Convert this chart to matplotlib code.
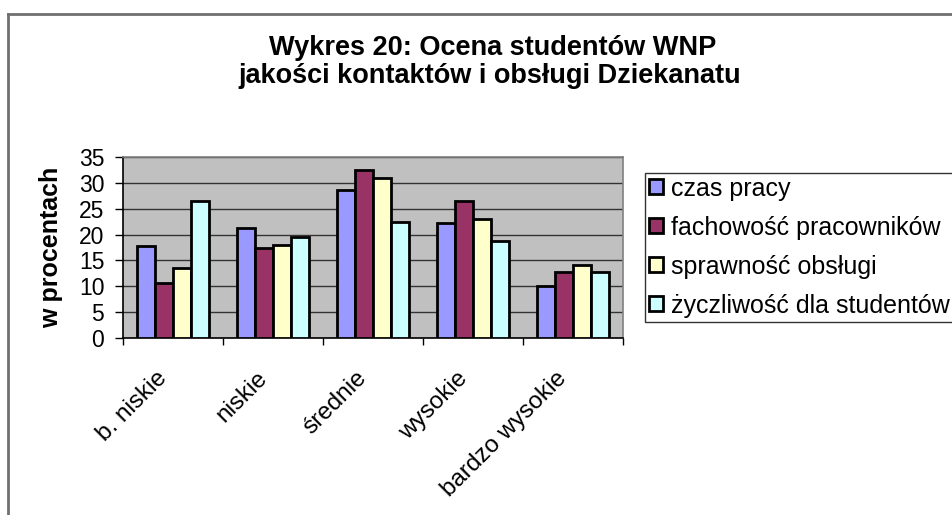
import matplotlib
matplotlib.use("Agg")
import matplotlib.pyplot as plt
import numpy as np
from matplotlib.lines import Line2D
from matplotlib.transforms import ScaledTranslation

categories = ["b. niskie", "niskie", "średnie", "wysokie", "bardzo wysokie"]
series_names = ["czas pracy", "fachowość pracowników", "sprawność obsługi", "życzliwość dla studentów"]
czas_pracy = [17.7, 21.2, 28.6, 22.2, 10.1]
fachowosc = [10.6, 17.5, 32.4, 26.5, 12.8]
sprawnosc = [13.6, 18.0, 30.9, 23.1, 14.2]
zyczliwosc = [26.5, 19.6, 22.4, 18.7, 12.8]
yticks = [0, 5, 10, 15, 20, 25, 30, 35]
colors = ["#9999FF", "#993366", "#FFFFCC", "#CCFFFF"]

plt.rcParams['font.family'] = ['Liberation Sans', 'DejaVu Sans']

W, H = 952, 515
fig = plt.figure(figsize=(W / 100, H / 100), dpi=100)
ax = fig.add_axes([123 / W, 1 - 338 / H, 500 / W, 181 / H])
ax.set_facecolor("#C0C0C0")

x = np.arange(len(categories))
bw = 1 / 5.5
data = [czas_pracy, fachowosc, sprawnosc, zyczliwosc]
for i, (vals, c, name) in enumerate(zip(data, colors, series_names)):
    ax.bar(x + (i - 1.5) * bw, vals, width=bw, color=c, edgecolor="black",
           linewidth=2.0, label=name, zorder=3)

ax.set_xlim(-0.5, len(categories) - 0.5)
ax.set_ylim(0, 35)
ax.set_yticks(yticks)
ax.set_yticklabels([str(v) for v in yticks], fontsize=16.5)
ax.yaxis.grid(True, color="#333333", linewidth=1.0, zorder=1)
ax.set_axisbelow(True)

ax.set_xticks(np.arange(len(categories) + 1) - 0.5, minor=False)
ax.set_xticklabels([])
ax.tick_params(axis='x', direction='out', length=5, width=1, color='black')
ax.tick_params(axis='y', direction='out', length=5.5, width=1, color='black', pad=8)
ax.set_xticks(x, minor=True)
ax.set_xticklabels(categories, minor=True, fontsize=17.5, rotation=45,
                   ha='right', va='top', rotation_mode='anchor')
ax.tick_params(axis='x', which='minor', length=0, pad=21)
shift = ScaledTranslation(-17 / 100, 0, fig.dpi_scale_trans)
for lbl in ax.get_xticklabels(minor=True):
    lbl.set_transform(lbl.get_transform() + shift)

for s in ['top', 'right']:
    ax.spines[s].set_color('#808080')
    ax.spines[s].set_linewidth(1.2)
for s in ['left', 'bottom']:
    ax.spines[s].set_color('black')
    ax.spines[s].set_linewidth(1.2)

ax.set_ylabel("w procentach", fontsize=18, fontweight='bold', labelpad=11)

fig.text(493 / W, 1 - 55 / H, "Wykres 20: Ocena studentów WNP",
         ha='center', va='baseline', fontsize=19.5, fontweight='bold')
fig.text(490 / W, 1 - 83 / H, "jakości kontaktów i obsługi Dziekanatu",
         ha='center', va='baseline', fontsize=19.5, fontweight='bold')

leg = fig.legend(loc='upper left', bbox_to_anchor=(645 / W, 1 - 173 / H),
                 fontsize=18, frameon=True, fancybox=False, edgecolor='black',
                 handlelength=0.55, handleheight=0.55, handletextpad=0.35,
                 labelspacing=0.6, borderpad=0.15, borderaxespad=0)
leg.get_frame().set_linewidth(1.0)
for p in leg.get_patches():
    p.set_linewidth(2.0)

# figure border (top and left visible)
fig.add_artist(Line2D([8 / W, 1.05], [1 - 14 / H, 1 - 14 / H], transform=fig.transFigure,
                      color='#707070', linewidth=2))
fig.add_artist(Line2D([8 / W, 8 / W], [1 - 14 / H, -0.05], transform=fig.transFigure,
                      color='#707070', linewidth=2))

fig.savefig("out.png", dpi=100)
